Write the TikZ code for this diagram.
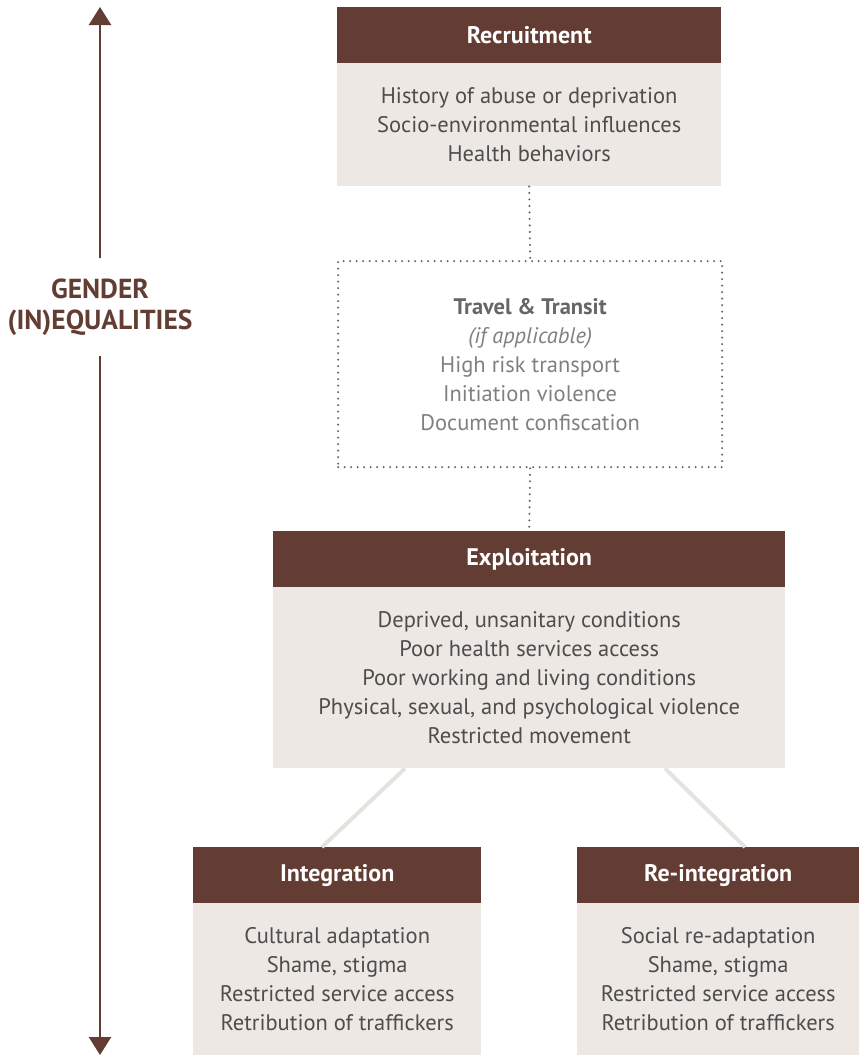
\documentclass[tikz,border=0pt]{standalone}
\usepackage{fontspec}
\setmainfont{PT Sans}
\usetikzlibrary{arrows.meta,calc}
\definecolor{hbrown}{HTML}{633D33}
\definecolor{hbody}{HTML}{EDE8E4}
\definecolor{tgrey}{HTML}{4D4D4D}
\definecolor{lgrey}{HTML}{808080}
\definecolor{dgrey}{HTML}{666666}
\definecolor{dotgrey}{HTML}{666666}
\definecolor{linegrey}{HTML}{E6E2DE}
\begin{document}
\begin{tikzpicture}[x=1pt,y=-1pt,
  hdr/.style={fill=hbrown,text=white,font=\bfseries\fontsize{24}{28}\selectfont,inner sep=0pt,anchor=north west,minimum height=56pt},
  bodybox/.style={fill=hbody,text=tgrey,font=\fontsize{22.5}{29}\selectfont,align=center,inner sep=0pt,anchor=north west},
  dotbox/.style={draw=dotgrey,line width=2.3pt,dash pattern=on 0pt off 6.5pt,line cap=round,text=lgrey,font=\fontsize{22.5}{29}\selectfont,align=center,inner sep=0pt,anchor=north west},
  dotline/.style={draw=dotgrey,line width=2.3pt,dash pattern=on 0pt off 6.5pt,line cap=round},
  greyline/.style={draw=linegrey,line width=4pt},
  axis/.style={draw=hbrown,line width=2.5pt},
  tip/.style={-{Triangle[width=22pt,length=18pt]}}
]
\useasboundingbox (0,0) rectangle (859,1055);

% Gender axis
\coordinate (gpos) at (100,307);
\node[text=hbrown,font=\bfseries\fontsize{27.5}{31}\selectfont,align=center,inner sep=0pt,minimum height=97pt] (gender) at (gpos) {\rule{0pt}{8pt}GENDER\\(IN)EQUALITIES};
\coordinate (axtop) at (100,7);
\coordinate (axbot) at (100,1055);
\draw[axis,tip] (gender.north) -- (axtop);
\draw[axis,tip] (gender.south) -- (axbot);

% Recruitment
\node[hdr,minimum width=384pt] (rh) at (337,7) {Recruitment};
\node[bodybox,minimum width=384pt,minimum height=123pt] (rb) at (337,63) {History of abuse or deprivation\\Socio-environmental influences\\Health behaviors};

% Travel
\node[dotbox,minimum width=384pt,minimum height=206pt] (tb) at (337,260) {{\color{dgrey}\bfseries Travel \& Transit}\\\textit{(if applicable)}\\High risk transport\\Initiation violence\\Document confiscation};

% Exploitation
\node[hdr,minimum width=512pt] (eh) at (273,531) {Exploitation};
\node[bodybox,minimum width=512pt,minimum height=181pt] (eb) at (273,587) {Deprived, unsanitary conditions\\Poor health services access\\Poor working and living conditions\\Physical, sexual, and psychological violence\\Restricted movement};

% Integration
\node[hdr,minimum width=288pt] (ih) at (193,847) {Integration};
\node[bodybox,minimum width=288pt,minimum height=152pt] (ib) at (193,903) {Cultural adaptation\\Shame, stigma\\Restricted service access\\Retribution of traffickers};

% Re-integration
\node[hdr,minimum width=282pt] (qh) at (577,847) {Re-integration};
\node[bodybox,minimum width=282pt,minimum height=152pt] (qb) at (577,903) {Social re-adaptation\\Shame, stigma\\Restricted service access\\Retribution of traffickers};

% connectors
\draw[dotline] (rb.south) -- (tb.north);
\draw[dotline] (tb.south) -- (eh.north);
\draw[greyline] ($(eb.south west)+(132,0)$) -- ($(ih.north west)+(129,0)$);
\draw[greyline] ($(eb.south west)+(392,0)$) -- ($(qh.north west)+(168,0)$);
\end{tikzpicture}
\end{document}
